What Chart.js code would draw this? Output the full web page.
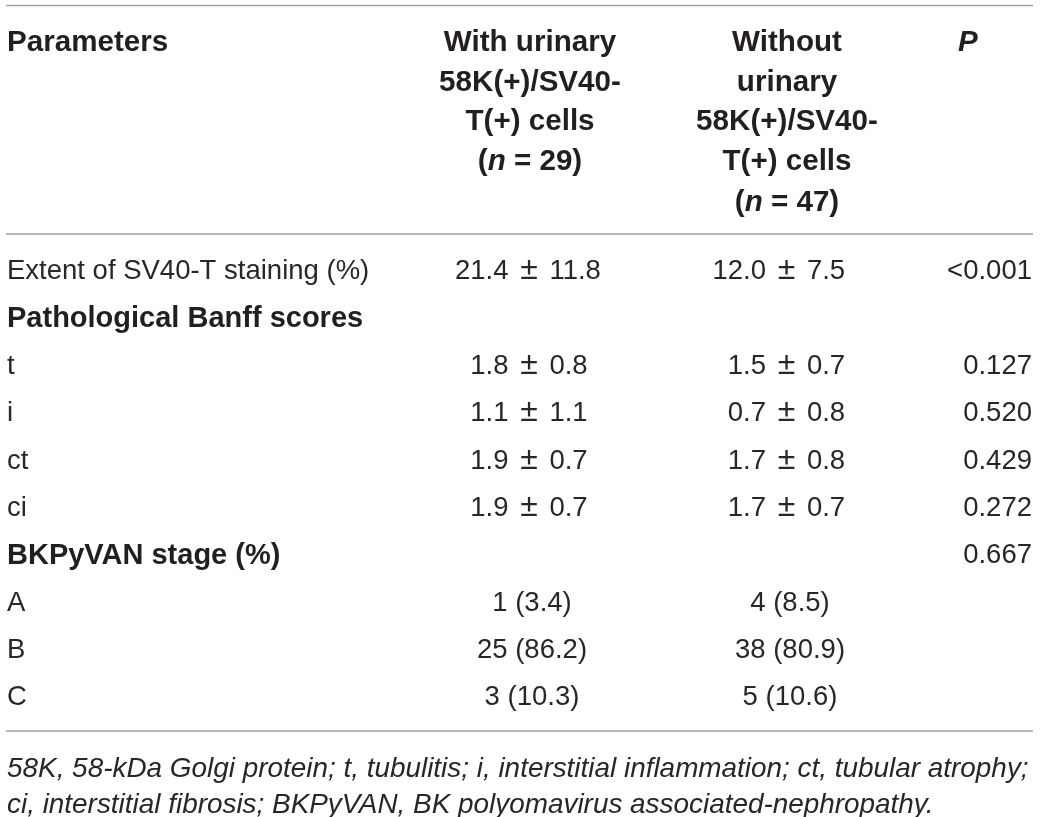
<!DOCTYPE html>
<html>
<head>
<meta charset="utf-8">
<script src="https://cdn.jsdelivr.net/npm/chart.js@4.4.1/dist/chart.umd.min.js"></script>
<style>
html,body{margin:0;padding:0;background:#ffffff;overflow:hidden}
canvas{display:block}
</style>
</head>
<body>
<canvas id="c" width="1040" height="817"></canvas>
<script>
// ---------- table content ----------
const headerParam = "Parameters";
const headerWith = ["With urinary", "58K(+)/SV40-", "T(+) cells", "(*n* = 29)"];
const headerWithout = ["Without", "urinary", "58K(+)/SV40-", "T(+) cells", "(*n* = 47)"];
const headerP = "P";

const rowLabels = [
  "Extent of SV40-T staining (%)",
  "Pathological Banff scores",
  "t", "i", "ct", "ci",
  "BKPyVAN stage (%)",
  "A", "B", "C"
];
const rowIsSection = [false, true, false, false, false, false, true, false, false, false];
const withCells = ["21.4 ± 11.8", "", "1.8 ± 0.8", "1.1 ± 1.1", "1.9 ± 0.7", "1.9 ± 0.7", "", "1 (3.4)", "25 (86.2)", "3 (10.3)"];
const withoutCells = ["12.0 ± 7.5", "", "1.5 ± 0.7", "0.7 ± 0.8", "1.7 ± 0.8", "1.7 ± 0.7", "", "4 (8.5)", "38 (80.9)", "5 (10.6)"];
const pValues = ["<0.001", "", "0.127", "0.520", "0.429", "0.272", "0.667", "", "", ""];

const footnoteLines = [
  "58K, 58-kDa Golgi protein; t, tubulitis; i, interstitial inflammation; ct, tubular atrophy;",
  "ci, interstitial fibrosis; BKPyVAN, BK polyomavirus associated-nephropathy."
];

// ---------- layout / style (not data) ----------
const FONT = '"Liberation Sans", Arial, Helvetica, sans-serif';
const STYLE = {
  text: "#231f20",
  regularColor: "#2a2627",
  rule: "#a3a3a3",
  ruleWidth: 1.6,
  regular: 27.5,
  bold: 29.6,
  section: 29,
  foot: 27.9,
  pm: 32
};
const COL = {            // x positions in x-scale units
  left: 1,
  c1Center: 524, c1Count: 526, c1Dec: 479.5,
  c2Center: 781, c2Count: 784, c2Dec: 737,
  pHead: 952, pRight: 1026
};
const PM_SLOT = 41;       // width of the " ± " slot in px
const HEADER_BASE = [-183, -143, -104, -64, -23];   // baselines relative to header rule
const TOP_RULE = -228.5;
const FOOT_BASE = [46, 82];

function setFont(ctx, size, bold, italic) {
  ctx.font = (italic ? "italic " : "") + (bold ? "bold " : "") + size + "px " + FONT;
}

function drawRich(ctx, str, cx, y, size, bold) {
  const parts = str.split("*");
  let total = 0;
  const widths = parts.map((p, i) => { setFont(ctx, size, bold, i % 2 === 1); const w = ctx.measureText(p).width; total += w; return w; });
  let x = cx - total / 2;
  ctx.textAlign = "left";
  parts.forEach((p, i) => { setFont(ctx, size, bold, i % 2 === 1); ctx.fillText(p, x, y); x += widths[i]; });
}

function drawPM(ctx, str, xDec, y) {
  const [m, s] = str.split(" ± ");
  const dot = m.indexOf(".");
  const intPart = m.slice(0, dot), rest = m.slice(dot);
  setFont(ctx, STYLE.regular, false, false);
  ctx.textAlign = "right"; ctx.fillText(intPart, xDec, y);
  ctx.textAlign = "left"; ctx.fillText(rest, xDec, y);
  let x = xDec + ctx.measureText(rest).width;
  setFont(ctx, STYLE.pm, false, false);
  ctx.textAlign = "center"; ctx.fillText("±", x + PM_SLOT / 2, y);
  setFont(ctx, STYLE.regular, false, false);
  ctx.textAlign = "left"; ctx.fillText(s, x + PM_SLOT, y);
}

const tablePlugin = {
  id: "tablePlugin",
  afterDraw(chart) {
    const ctx = chart.ctx, a = chart.chartArea;
    const xs = chart.scales.x, ys = chart.scales.y;
    const X = u => xs.getPixelForValue(u);
    ctx.save();
    // rules
    ctx.strokeStyle = STYLE.rule; ctx.lineWidth = STYLE.ruleWidth;
    [a.top + TOP_RULE, a.top, a.bottom].forEach(y => {
      ctx.beginPath(); ctx.moveTo(a.left, y); ctx.lineTo(a.right, y); ctx.stroke();
    });
    ctx.fillStyle = STYLE.text;
    ctx.textBaseline = "alphabetic";
    // header
    setFont(ctx, STYLE.bold, true, false);
    ctx.textAlign = "left";
    ctx.fillText(headerParam, X(COL.left), a.top + HEADER_BASE[0]);
    headerWith.forEach((t, i) => drawRich(ctx, t, X(COL.c1Center), a.top + HEADER_BASE[i], STYLE.bold, true));
    headerWithout.forEach((t, i) => drawRich(ctx, t, X(COL.c2Center), a.top + HEADER_BASE[i], STYLE.bold, true));
    setFont(ctx, STYLE.bold, true, true);
    ctx.textAlign = "left";
    ctx.fillText(headerP, X(COL.pHead), a.top + HEADER_BASE[0]);
    // body
    rowLabels.forEach((label, i) => {
      const cy = ys.getPixelForValue(i);
      const sec = rowIsSection[i];
      const size = sec ? STYLE.section : STYLE.regular;
      const y = cy + 0.355 * size;
      ctx.fillStyle = sec ? STYLE.text : STYLE.regularColor;
      setFont(ctx, size, sec, false);
      ctx.textAlign = "left";
      ctx.fillText(label, X(COL.left), y);
      ctx.fillStyle = STYLE.regularColor;
      const yr = cy + 0.355 * STYLE.regular;
      [[withCells[i], COL.c1Dec, COL.c1Count], [withoutCells[i], COL.c2Dec, COL.c2Count]].forEach(([v, dec, cen]) => {
        if (!v) return;
        if (v.indexOf(" ± ") >= 0) drawPM(ctx, v, X(dec), yr);
        else { setFont(ctx, STYLE.regular, false, false); ctx.textAlign = "center"; ctx.fillText(v, X(cen), yr); }
      });
      if (pValues[i]) {
        setFont(ctx, STYLE.regular, false, false);
        ctx.textAlign = "right";
        ctx.fillText(pValues[i], X(COL.pRight), yr);
      }
    });
    // footnote
    ctx.fillStyle = STYLE.regularColor;
    setFont(ctx, STYLE.foot, false, true);
    ctx.textAlign = "left";
    footnoteLines.forEach((t, i) => ctx.fillText(t, X(COL.left), a.bottom + FOOT_BASE[i]));
    ctx.restore();
  }
};

new Chart(document.getElementById("c"), {
  type: "scatter",
  data: {
    datasets: [{
      data: rowLabels.map((_, i) => ({ x: COL.left, y: i })),
      pointRadius: 0,
      showLine: false
    }]
  },
  options: {
    responsive: false,
    animation: false,
    events: [],
    layout: { padding: { left: 6, right: 7, top: 234, bottom: 86 } },
    scales: {
      x: { type: "linear", min: 0, max: 1027, display: false },
      y: { type: "linear", min: -0.75, max: 9.75, reverse: true, display: false }
    },
    plugins: { legend: { display: false }, tooltip: { enabled: false } }
  },
  plugins: [tablePlugin]
});
</script>
</body>
</html>
